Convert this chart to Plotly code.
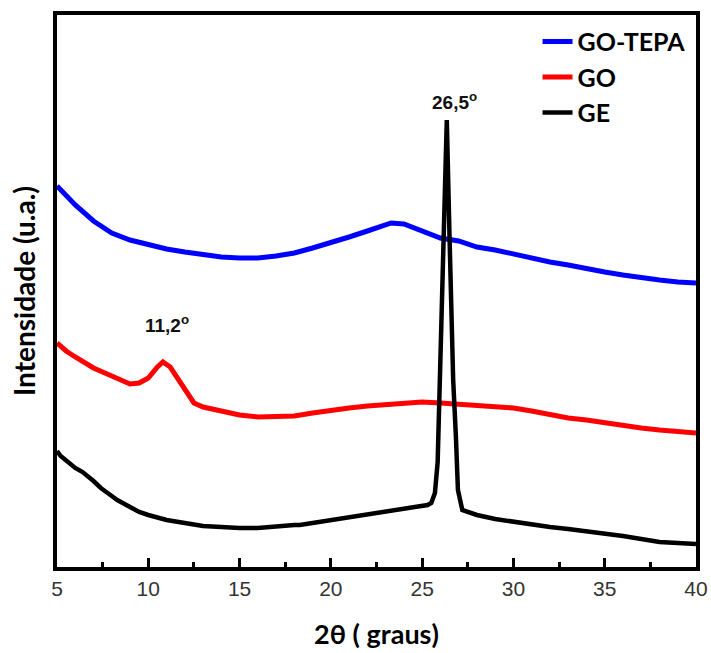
import plotly.graph_objects as go

# 2θ (graus) and intensities (u.a.)
x_tepa = [5, 5.5, 6, 7, 8, 9, 10, 11, 12, 13, 14, 15, 16, 17, 18, 19, 20, 21, 22, 23,
          23.3, 24, 25, 26, 27, 28, 29, 30, 31, 32, 33, 34, 35, 36, 37, 38, 39, 40]
y_tepa = [381, 371, 362, 346, 334, 327, 322, 318, 315, 312, 310, 309, 309, 311, 314, 319,
          324, 330, 336, 342, 344, 343, 336, 329, 326, 320, 317, 313, 308, 305, 302, 298,
          295, 292, 289, 287, 285, 284]

x_go = [5, 5.5, 6, 6.4, 7, 8, 9, 9.5, 10, 10.5, 10.8, 11.2, 11.6, 12, 12.5, 13, 14, 15, 16,
        17, 18, 19, 20, 21, 22, 23, 24, 25, 26, 27, 28, 29, 30, 31, 32, 33, 34, 35, 36,
        37, 38, 39, 40]
y_go = [224, 216, 210, 205, 199, 191, 183, 184, 189, 200, 205, 200, 189, 176, 164, 160, 156,
        152, 150, 150, 151, 154, 157, 159, 161, 162, 164, 165, 164, 163, 161, 160, 159, 156,
        152, 149, 147, 144, 141, 139, 137, 135, 134]

x_ge = [5, 5.2, 6, 6.4, 7, 7.4, 8, 8.3, 9, 9.5, 10, 11, 12, 12.8, 13, 14, 14.6, 15, 16, 16.5,
        17, 18, 18.3, 19, 20, 21, 22, 23, 24, 25, 25.3, 25.5, 25.7, 25.85, 25.97, 26.1, 26.2,
        26.35, 26.5, 26.6, 26.7, 26.85, 26.96, 27.2, 28, 29, 30, 31, 32, 33, 34, 35, 36,
        37, 38, 39, 40]
y_ge = [116, 111, 99, 95, 86, 79, 71, 67, 60, 55, 52, 47, 44, 42, 41, 40, 39, 39, 39, 40,
        41, 42, 42, 44, 47, 50, 52, 55, 58, 61, 62, 64, 74, 105, 187, 300, 380,
        447, 330, 230, 187, 130, 77, 57, 52, 48, 45, 43, 40, 38, 36, 34, 31, 28, 25, 24, 23]

x_ticks = [5, 10, 15, 20, 25, 30, 35, 40]

FONT_TICK = "Liberation Sans, Arial"
FONT_NARROW = "Liberation Sans Narrow, Arial Narrow, Liberation Sans, Arial"
FONT_TITLE = "Lato, Open Sans, sans-serif"

fig = go.Figure()
fig.add_trace(go.Scatter(x=x_tepa, y=y_tepa, mode="lines", name="GO-TEPA",
                         line=dict(color="#0000ff", width=5)))
fig.add_trace(go.Scatter(x=x_go, y=y_go, mode="lines", name="GO",
                         line=dict(color="#ff0000", width=5)))
fig.add_trace(go.Scatter(x=x_ge, y=y_ge, mode="lines", name="GE",
                         line=dict(color="#000000", width=4.5)))

fig.add_annotation(x=26.75, y=452, text="<b>26,5<sup>o</sup></b>", showarrow=False,
                   yanchor="bottom", font=dict(family=FONT_NARROW, size=19, color="#111"))
fig.add_annotation(x=11.0, y=229, text="<b>11,2<sup>o</sup></b>", showarrow=False,
                   yanchor="bottom", font=dict(family=FONT_NARROW, size=19, color="#111"))

fig.update_layout(
    width=711, height=653,
    margin=dict(l=57, r=15, t=15, b=86),
    paper_bgcolor="white", plot_bgcolor="white",
    showlegend=True,
    legend=dict(x=0.752, y=0.993, xanchor="left", yanchor="top",
                bgcolor="rgba(0,0,0,0)",
                font=dict(family=FONT_TITLE, size=25, color="#000", weight="bold"),
                itemwidth=30, traceorder="normal"),
    xaxis=dict(range=[5, 40], tickvals=x_ticks, ticktext=[str(t) for t in x_ticks],
               automargin=False,
               ticks="inside", ticklen=9, tickwidth=3, tickcolor="black",
               minor=dict(ticks="inside", dtick=2.5, tick0=5, ticklen=5, tickwidth=3,
                          tickcolor="black"),
               showline=True, linewidth=3.5, linecolor="black", mirror=True,
               showgrid=False, zeroline=False,
               tickfont=dict(family=FONT_TICK, size=21, color="#333"),
               title=dict(text="<b>2θ ( graus)</b>", standoff=27,
                          font=dict(family=FONT_TITLE, size=27, color="#000"))),
    yaxis=dict(range=[0, 552], showticklabels=False, ticks="", automargin=False,
               showline=True, linewidth=3.5, linecolor="black", mirror=True,
               showgrid=False, zeroline=False,
               title=dict(text="<b>Intensidade (u.a.)</b>", standoff=10,
                          font=dict(family=FONT_TITLE, size=28, color="#000"))),
)

fig.write_html("out.html")
